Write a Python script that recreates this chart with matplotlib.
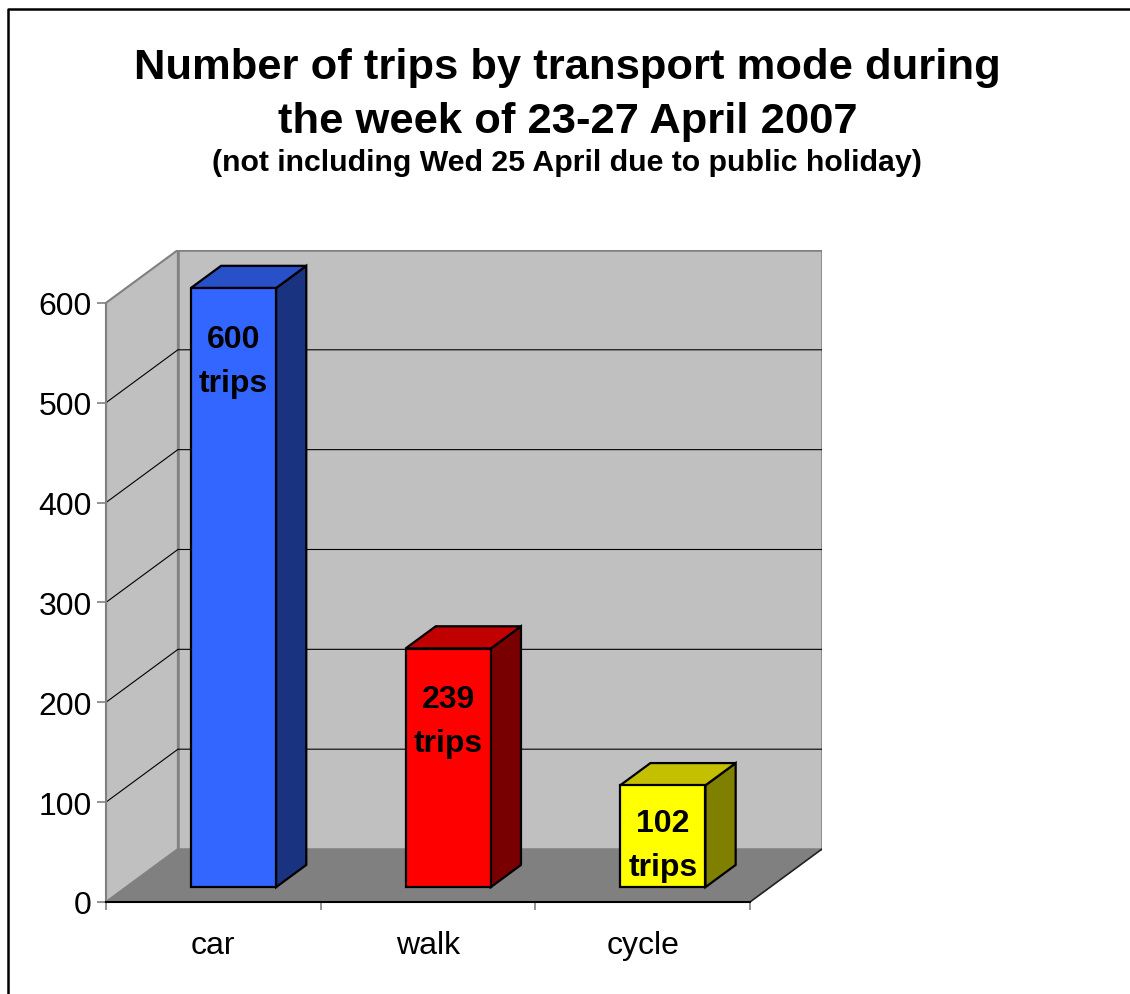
import matplotlib
matplotlib.use("Agg")
import matplotlib.pyplot as plt
from matplotlib.patches import Polygon
from matplotlib.lines import Line2D

plt.rcParams['font.family'] = ['Liberation Sans', 'DejaVu Sans']

# data
modes = ["car", "walk", "cycle"]
trips = [600, 239, 102]
front_colors = ["#3366FF", "#FF0000", "#FFFF00"]
top_colors = ["#2850C8", "#C00000", "#C4C000"]
side_colors = ["#1A3380", "#780000", "#808000"]
yticks = [0, 100, 200, 300, 400, 500, 600]

# 3d look: depth offset of the floor (in category / value units)
DX, DY = 0.335, 53.0
D0, D1 = 0.28, 0.70      # bar front / back depth
BAR_W = 0.397
YMAX = 600


def P(x, v, d):
    return (x + d * DX, v + d * DY)


fig = plt.figure(figsize=(11.3, 9.95), dpi=100)
ax = fig.add_axes([0.0938, 0.0925, 0.6336, 0.6553])
ax.set_xlim(0, len(modes) + DX)
ax.set_ylim(0, YMAX + DY)
ax.patch.set_visible(False)

wall = "#C0C0C0"
edge = "#808080"
n = len(modes)

# side wall, back wall, floor
ax.add_patch(Polygon([P(0, 0, 0), P(0, YMAX, 0), P(0, YMAX, 1), P(0, 0, 1)],
                     closed=True, fc=wall, ec=edge, lw=1.5, zorder=1))
ax.add_patch(Polygon([P(0, 0, 1), P(n, 0, 1), P(n, YMAX, 1), P(0, YMAX, 1)],
                     closed=True, fc=wall, ec=edge, lw=1.8, zorder=1))
ax.add_patch(Polygon([P(0, 0, 0), P(n, 0, 0), P(n, 0, 1), P(0, 0, 1)],
                     closed=True, fc="#808080", ec="none", zorder=1.2))
ax.plot(*zip(P(n, 0, 0), P(n, 0, 1)), color="#202020", lw=1.2, zorder=1.3)

# gridlines
for v in yticks[1:-1]:
    ax.plot(*zip(P(0, v, 0), P(0, v, 1), P(n, v, 1)), color="black", lw=0.8, zorder=1.5)

# bars
for i, (v, fc, tc, sc) in enumerate(zip(trips, front_colors, top_colors, side_colors)):
    x0 = i + 0.5 - BAR_W / 2
    x1 = i + 0.5 + BAR_W / 2
    front = [P(x0, 0, D0), P(x1, 0, D0), P(x1, v, D0), P(x0, v, D0)]
    top = [P(x0, v, D0), P(x1, v, D0), P(x1, v, D1), P(x0, v, D1)]
    side = [P(x1, 0, D0), P(x1, 0, D1), P(x1, v, D1), P(x1, v, D0)]
    for pts, c in [(side, sc), (top, tc), (front, fc)]:
        ax.add_patch(Polygon(pts, closed=True, fc=c, ec="black", lw=1.6,
                             joinstyle="miter", zorder=3))
    base = max(v - 59, 56)
    tx, ty = P(i + 0.5, base, D0)
    ax.text(tx, ty, str(v), ha="center", va="baseline", fontsize=23,
            fontweight="bold", zorder=4)
    tx, ty = P(i + 0.5, base - 44, D0)
    ax.text(tx, ty, "trips", ha="center", va="baseline", fontsize=23,
            fontweight="bold", zorder=4)

# axes
for s in ["top", "right"]:
    ax.spines[s].set_visible(False)
ax.spines["left"].set_bounds(0, YMAX)
ax.spines["left"].set_color(edge)
ax.spines["left"].set_linewidth(1.5)
ax.spines["bottom"].set_bounds(0, n)
ax.spines["bottom"].set_color("black")
ax.spines["bottom"].set_linewidth(1.5)
ax.spines["left"].set_zorder(2)
ax.spines["bottom"].set_zorder(2)

ax.set_yticks(yticks)
ax.set_yticklabels([str(t) for t in yticks])
ax.tick_params(axis="y", direction="out", length=6.5, width=1.2, color=edge,
               labelsize=23, pad=3.6)
ax.set_xticks(range(n + 1))
ax.set_xticklabels([])
ax.tick_params(axis="x", which="major", direction="out", length=6, width=1.2, color=edge)
ax.set_xticks([i + 0.5 for i in range(n)], minor=True)
ax.set_xticklabels(modes, minor=True)
ax.tick_params(axis="x", which="minor", length=0, labelsize=23, pad=20)

# titles
fig.text(0.502, 1 - 79 / 995, "Number of trips by transport mode during", ha="center",
         va="baseline", fontsize=31.3, fontweight="bold")
fig.text(0.502, 1 - 133 / 995, "the week of 23-27 April 2007", ha="center",
         va="baseline", fontsize=31.3, fontweight="bold")
fig.text(0.502, 1 - 171 / 995, "(not including Wed 25 April due to public holiday)",
         ha="center", va="baseline", fontsize=21.8, fontweight="bold")

# chart border (top and left only visible)
fig.add_artist(Line2D([8 / 1130, 8 / 1130, 1.0], [0.0, 1 - 10 / 995, 1 - 10 / 995],
                      transform=fig.transFigure, color="black", lw=1.8))

fig.savefig("out.png", dpi=100)
